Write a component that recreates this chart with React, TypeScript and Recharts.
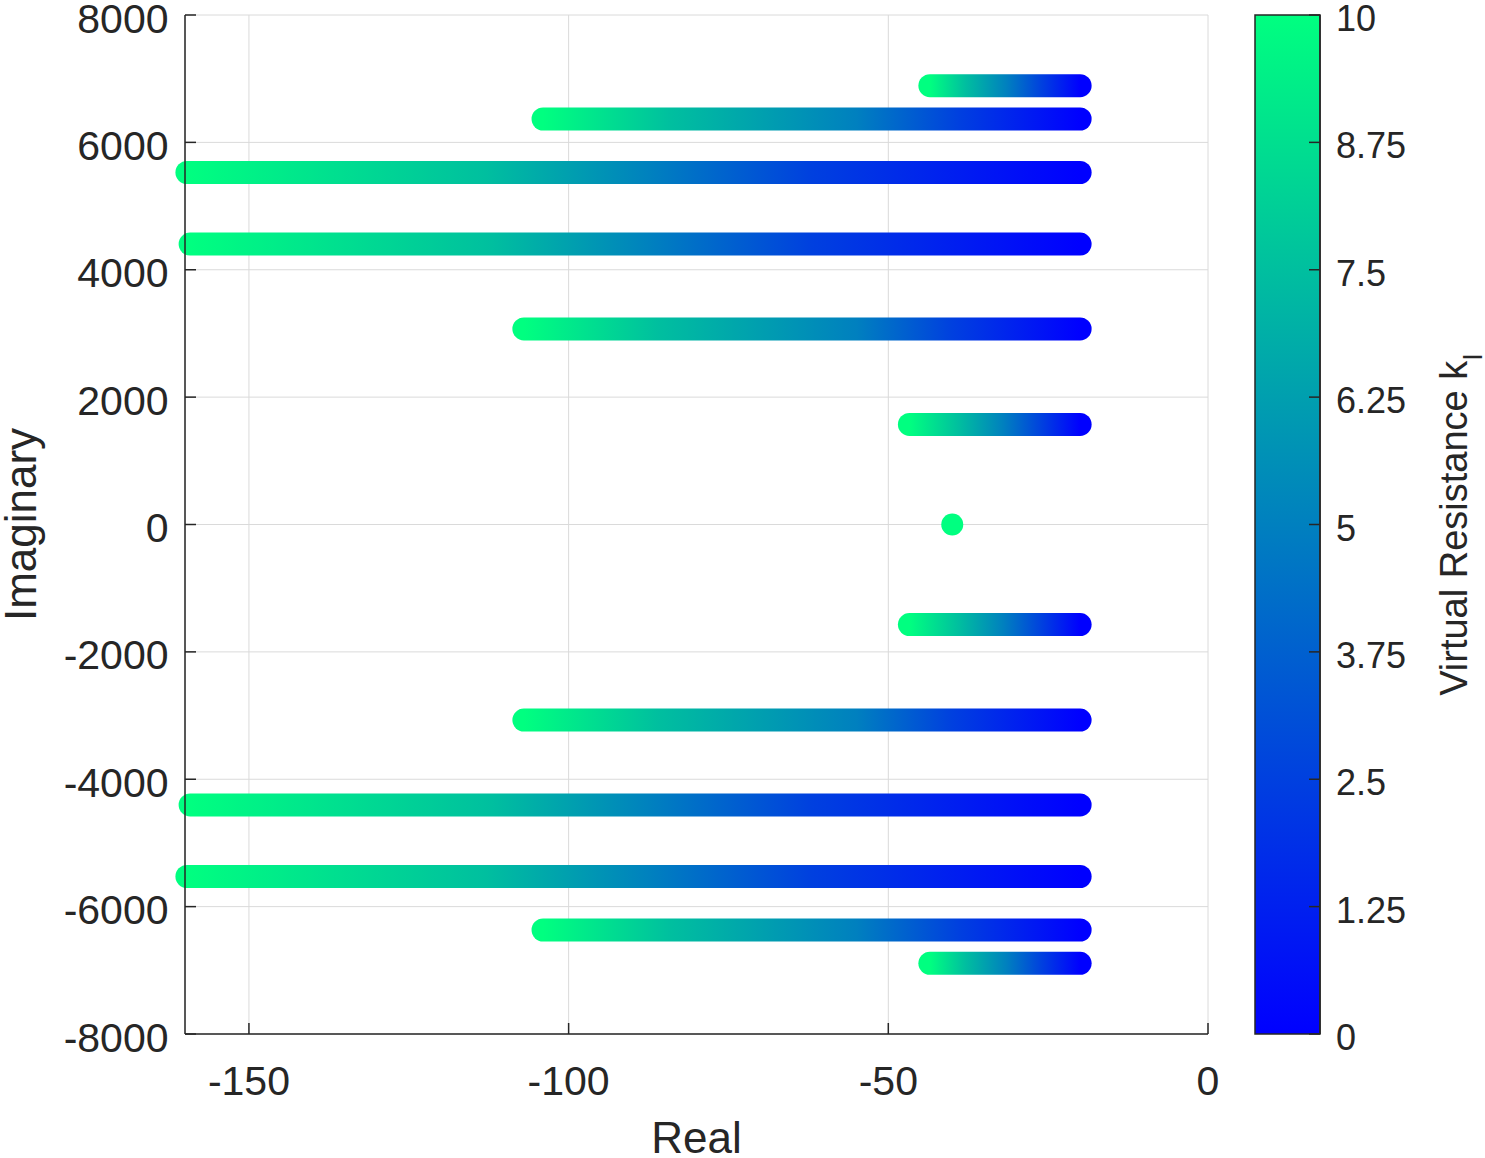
import React from 'react'
import {
  Bar,
  BarChart,
  CartesianGrid,
  ComposedChart,
  Line,
  Scatter,
  XAxis,
  YAxis,
} from 'recharts'

const FONT = '"Liberation Sans", Arial, Helvetica, sans-serif'
const INK = '#262626'

// gain samples along every branch (k = 0 is the blue end, k = 10 the green end)
const kSteps = [0, 2.5, 5, 7.5, 10]

// imaginary part of each upper branch, the lower half is its mirror image
const imagParts = [6890, 6367, 5527, 4404, 3070, 1572]

// real part of each branch at kSteps
const realA = [-20, -26, -31.5, -38, -43.5]
const realB = [-20, -39, -55, -84, -104]
const realC = [-20, -62, -87, -113, -159.7]
const realD = [-20, -62, -87, -112, -159.2]
const realE = [-20, -40, -55, -86, -107]
const realF = [-20, -26, -32, -39, -46.7]
const realParts = [realA, realB, realC, realD, realE, realF]

const stationaryPole = [{ x: -40, y: 0, k: 10 }]

const xTicks = [-150, -100, -50, 0]
const yTicks = [-8000, -6000, -4000, -2000, 0, 2000, 4000, 6000, 8000]
const kTicks = [0, 1.25, 2.5, 3.75, 5, 6.25, 7.5, 8.75, 10]

// plot box in page pixels
const PLOT_LEFT = 185
const PLOT_RIGHT = 1208
const PLOT_TOP = 15
const PLOT_BOTTOM = 1034
const X_MIN = -160
const X_MAX = 0

// colorbar chart sits at this page x
const CB_LEFT = 1230

// MATLAB "winter" colormap
const winter = (k: number) => {
  const t = k / 10
  return `rgb(0, ${Math.round(255 * t)}, ${Math.round(255 - 127.5 * t)})`
}

const toPx = (v: number) =>
  PLOT_LEFT + ((v - X_MIN) / (X_MAX - X_MIN)) * (PLOT_RIGHT - PLOT_LEFT)

const branches = imagParts.flatMap((im, i) =>
  [1, -1].map((sign) => ({
    id: `branch${i}${sign > 0 ? 'u' : 'l'}`,
    points: kSteps.map((k, j) => ({ k, x: realParts[i][j], y: sign * im })),
  }))
)

const BranchGradient = ({ id, points }: { id: string; points: { k: number; x: number }[] }) => {
  const xs = points.map((p) => p.x)
  const left = Math.min(...xs)
  const right = Math.max(...xs)
  const stops = points
    .map((p) => ({ offset: (p.x - left) / (right - left), color: winter(p.k) }))
    .sort((a, b) => a.offset - b.offset)
  return (
    <linearGradient
      id={id}
      gradientUnits="userSpaceOnUse"
      x1={toPx(left)}
      x2={toPx(right)}
      y1={0}
      y2={0}
    >
      {stops.map((s, i) => (
        <stop key={i} offset={s.offset} stopColor={s.color} />
      ))}
    </linearGradient>
  )
}

const XTick = (props: any) => {
  const { x, y, payload } = props
  return (
    <g>
      <line x1={x} x2={x} y1={y} y2={y - 11} stroke={INK} strokeWidth={1.5} />
      <text x={x} y={y + 61} textAnchor="middle" fontSize={41} fontFamily={FONT} fill={INK}>
        {payload.value}
      </text>
    </g>
  )
}

const YTick = (props: any) => {
  const { x, y, payload } = props
  return (
    <g>
      <line x1={x} x2={x + 11} y1={y} y2={y} stroke={INK} strokeWidth={1.5} />
      <text x={x - 16.5} y={y + 17.5} textAnchor="end" fontSize={41} fontFamily={FONT} fill={INK}>
        {payload.value}
      </text>
    </g>
  )
}

const CbTick = (props: any) => {
  const { x, y, payload } = props
  return (
    <g>
      <line x1={x - 11} x2={x} y1={y} y2={y} stroke={INK} strokeWidth={1.5} />
      <text x={x + 16} y={y + 16} textAnchor="start" fontSize={36} fontFamily={FONT} fill={INK}>
        {payload.value}
      </text>
    </g>
  )
}

const XTitle = () => (
  <text x={(PLOT_LEFT + PLOT_RIGHT) / 2} y={1153} textAnchor="middle" fontSize={44} fontFamily={FONT} fill={INK}>
    Real
  </text>
)

const YTitle = () => {
  const cy = (PLOT_TOP + PLOT_BOTTOM) / 2
  return (
    <text
      x={36}
      y={cy}
      transform={`rotate(-90, 36, ${cy})`}
      textAnchor="middle"
      fontSize={44}
      fontFamily={FONT}
      fill={INK}
    >
      Imaginary
    </text>
  )
}

const CbTitle = () => {
  const cy = (PLOT_TOP + PLOT_BOTTOM) / 2
  const x = 1467 - CB_LEFT
  return (
    <text
      x={x}
      y={cy}
      transform={`rotate(-90, ${x}, ${cy})`}
      textAnchor="middle"
      fontSize={38}
      fontFamily={FONT}
      fill={INK}
    >
      Virtual Resistance k
      <tspan fontSize={27} dy={15}>
        I
      </tspan>
    </text>
  )
}

const colorbarData = [{ name: 'k', top: 10 }]

export default function App() {
  return (
    <div style={{ position: 'absolute', left: 0, top: 0, width: 1485, height: 1158, background: '#fff' }}>
      <svg width={0} height={0} style={{ position: 'absolute' }}>
        <defs>
          {branches.map((b) => (
            <BranchGradient key={b.id} id={b.id} points={b.points} />
          ))}
          <linearGradient id="cbGrad" x1="0" y1="1" x2="0" y2="0">
            {kTicks.map((k) => (
              <stop key={k} offset={k / 10} stopColor={winter(k)} />
            ))}
          </linearGradient>
        </defs>
      </svg>

      <div style={{ position: 'absolute', left: 0, top: 0 }}>
        <ComposedChart width={1240} height={1158} margin={{ top: PLOT_TOP, right: 32, bottom: 0, left: 0 }}>
          <CartesianGrid stroke="#dadada" strokeWidth={1} />
          <XAxis
            type="number"
            dataKey="x"
            domain={[X_MIN, X_MAX]}
            ticks={xTicks}
            interval={0}
            height={124}
            axisLine={{ stroke: INK, strokeWidth: 1.5 }}
            tickLine={false}
            tickSize={0}
            tickMargin={0}
            tick={XTick}
            label={<XTitle />}
          />
          <YAxis
            type="number"
            domain={[-8000, 8000]}
            ticks={yTicks}
            interval={0}
            width={185}
            axisLine={{ stroke: INK, strokeWidth: 1.5 }}
            tickLine={false}
            tickSize={0}
            tickMargin={0}
            tick={YTick}
            label={<YTitle />}
          />
          {branches.map((b) => (
            <Line
              key={b.id}
              data={b.points}
              dataKey="y"
              type="linear"
              stroke={`url(#${b.id})`}
              strokeWidth={23}
              strokeLinecap="round"
              dot={false}
              activeDot={false}
              isAnimationActive={false}
            />
          ))}
          <Scatter
            data={stationaryPole}
            dataKey="y"
            isAnimationActive={false}
            shape={(p: any) => <circle cx={p.cx} cy={p.cy} r={11} fill={winter(p.payload.k)} />}
          />
        </ComposedChart>
      </div>

      <div style={{ position: 'absolute', left: CB_LEFT, top: 0 }}>
        <BarChart
          width={255}
          height={1158}
          data={colorbarData}
          barCategoryGap={0}
          margin={{ top: PLOT_TOP, right: 0, bottom: 1158 - PLOT_BOTTOM, left: 25 }}
        >
          <XAxis dataKey="name" hide />
          <YAxis
            orientation="right"
            type="number"
            domain={[0, 10]}
            ticks={kTicks}
            interval={0}
            width={165}
            axisLine={{ stroke: INK, strokeWidth: 1.5 }}
            tickLine={false}
            tickSize={0}
            tickMargin={0}
            tick={CbTick}
            label={<CbTitle />}
          />
          <Bar dataKey="top" fill="url(#cbGrad)" stroke={INK} strokeWidth={1.5} isAnimationActive={false} />
        </BarChart>
      </div>
    </div>
  )
}
